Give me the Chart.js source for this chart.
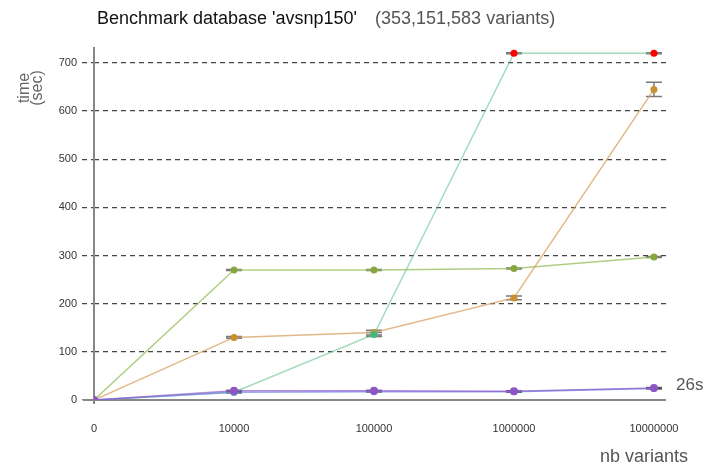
<!DOCTYPE html>
<html>
<head>
<meta charset="utf-8">
<script src="https://cdn.jsdelivr.net/npm/chart.js@4"></script>
<style>
  html, body { margin: 0; padding: 0; background: #fff; }
</style>
</head>
<body>
<canvas id="chart" width="707" height="464"></canvas>
<script>
var categories = ["0", "10000", "100000", "1000000", "10000000"];
var yTicks = [0, 100, 200, 300, 400, 500, 600, 700];

var tealTimes   = [0, 16, 136, 720, 720];
var orangeTimes = [0, 130, 140, 212, 645];
var oliveTimes  = [0, 270, 270, 273, 297];
var purpleTimes = [0, 19, 19, 18, 25];
var blueTimes   = [0, 16, 17, 17, 24];

var tealErr   = [0, 1, 4, 1, 1];
var orangeErr = [0, 2, 5, 4, 15];
var oliveErr  = [0, 1, 1, 1, 1];
var purpleErr = [0, 1, 1, 1, 1];
var blueErr   = [0, 1, 1, 1, 1];

function pts(arr) {
    return arr.map(function (v, i) { return { x: i, y: v }; });
}

var ctx = document.getElementById("chart");

var decor = {
    id: 'decor',
    beforeDatasetsDraw: function (chart) {
        var c = chart.ctx, a = chart.chartArea;
        var xs = chart.scales.x, ys = chart.scales.y;
        c.save();
        c.strokeStyle = '#888';
        c.lineWidth = 2;
        c.beginPath();
        c.moveTo(83, a.bottom);
        c.lineTo(a.right, a.bottom);
        c.moveTo(a.left, a.top);
        c.lineTo(a.left, a.bottom + 4);
        c.stroke();

        // error bars
        chart.data.datasets.forEach(function (ds) {
            if (!ds.err) return;
            c.strokeStyle = 'rgba(50,50,50,0.65)';
            c.lineWidth = 1.5;
            ds.data.forEach(function (p, i) {
                var e = ds.err[i];
                if (!e) return;
                var px = xs.getPixelForValue(p.x);
                var top = ys.getPixelForValue(p.y + e);
                var bot = ys.getPixelForValue(p.y - e);
                c.beginPath();
                c.moveTo(px, top); c.lineTo(px, bot);
                c.moveTo(px - 8, top); c.lineTo(px + 8, top);
                c.moveTo(px - 8, bot); c.lineTo(px + 8, bot);
                c.stroke();
            });
        });
        c.restore();
    },
    afterDraw: function (chart) {
        var c = chart.ctx;
        c.save();
        c.textBaseline = 'middle';
        c.textAlign = 'left';
        c.font = '18px "Liberation Sans", Arial, sans-serif';
        c.fillStyle = '#111';
        var t1 = "Benchmark database 'avsnp150'";
        c.fillText(t1, 97, 19);
        c.fillStyle = '#555';
        c.fillText("(353,151,583 variants)", 97 + c.measureText(t1).width + 18, 19);

        c.font = '18px "Liberation Sans", Arial, sans-serif';
        c.fillStyle = '#555';
        c.fillText("nb variants", 600, 457);
        c.font = '17px "Liberation Sans", Arial, sans-serif';
        c.fillText("26s", 676, 385);

        c.font = '16px "Liberation Sans", Arial, sans-serif';
        c.fillStyle = '#666';
        c.textAlign = 'center';
        c.translate(25, 88);
        c.rotate(-Math.PI / 2);
        c.fillText("time", 0, 0);
        c.fillText("(sec)", 0, 13);
        c.restore();
    }
};

var chartGraph = new Chart(ctx, {
    type: 'line',
    data: {
        datasets: [{
            label: "purple",
            data: pts(purpleTimes),
            err: purpleErr,
            borderWidth: 1.5,
            borderColor: 'rgba(140,90,205,0.7)',
            pointBackgroundColor: '#8e55c4',
            pointBorderWidth: 0,
            pointRadius: 4
        },
        {
            label: "blue",
            data: pts(blueTimes),
            err: blueErr,
            borderWidth: 1.5,
            borderColor: 'rgba(110,130,230,0.7)',
            pointBackgroundColor: '#6f7fe0',
            pointBorderWidth: 0,
            pointRadius: 3.5
        },
        {
            label: "teal",
            data: pts(tealTimes),
            err: tealErr,
            borderWidth: 1.5,
            borderColor: 'rgba(100,195,140,0.6)',
            pointBackgroundColor: ['#3dbb7a', '#3dbb7a', '#3dbb7a', '#ff0000', '#ff0000'],
            pointBorderWidth: 0,
            pointRadius: 3.5
        },
        {
            label: "orange",
            data: pts(orangeTimes),
            err: orangeErr,
            borderWidth: 1.5,
            borderColor: 'rgba(215,160,95,0.75)',
            pointBackgroundColor: '#c8902f',
            pointBorderWidth: 0,
            pointRadius: 3.5
        },
        {
            label: "olive",
            data: pts(oliveTimes),
            err: oliveErr,
            borderWidth: 1.5,
            borderColor: 'rgba(150,190,90,0.75)',
            pointBackgroundColor: '#86a83a',
            pointBorderWidth: 0,
            pointRadius: 3.5
        }]
    },
    options: {
        responsive: false,
        animation: false,
        layout: { padding: { left: 0, top: 47, right: 41, bottom: 0 } },
        plugins: { legend: { display: false }, tooltip: { enabled: false } },
        elements: { line: { tension: 0 } },
        scales: {
            x: {
                type: 'linear',
                min: 0,
                max: 4.086,
                border: { display: false },
                grid: { display: false },
                afterFit: function (s) { s.height = 64; },
                afterBuildTicks: function (s) {
                    s.ticks = categories.map(function (c, i) { return { value: i }; });
                },
                ticks: {
                    includeBounds: false,
                    padding: 14,
                    color: '#333',
                    font: { family: '"Liberation Sans", Arial, sans-serif', size: 11 },
                    callback: function (v) { return categories[v]; }
                }
            },
            y: {
                min: 0,
                max: 733,
                border: { display: false, dash: [5, 4] },
                afterFit: function (s) { s.width = 94; },
                afterBuildTicks: function (s) {
                    s.ticks = yTicks.map(function (v) { return { value: v }; });
                },
                grid: {
                    color: function (c) { return c.tick && c.tick.value === 0 ? 'rgba(0,0,0,0)' : '#444'; },
                    lineWidth: 1.3,
                    tickLength: 12,
                    tickBorderDash: [5, 4],
                    tickColor: function (c) { return c.tick && c.tick.value === 0 ? '#888' : '#444'; }
                },
                ticks: {
                    includeBounds: false,
                    padding: 5,
                    color: '#333',
                    font: { family: '"Liberation Sans", Arial, sans-serif', size: 11 }
                }
            }
        }
    },
    plugins: [decor]
});
</script>
</body>
</html>
